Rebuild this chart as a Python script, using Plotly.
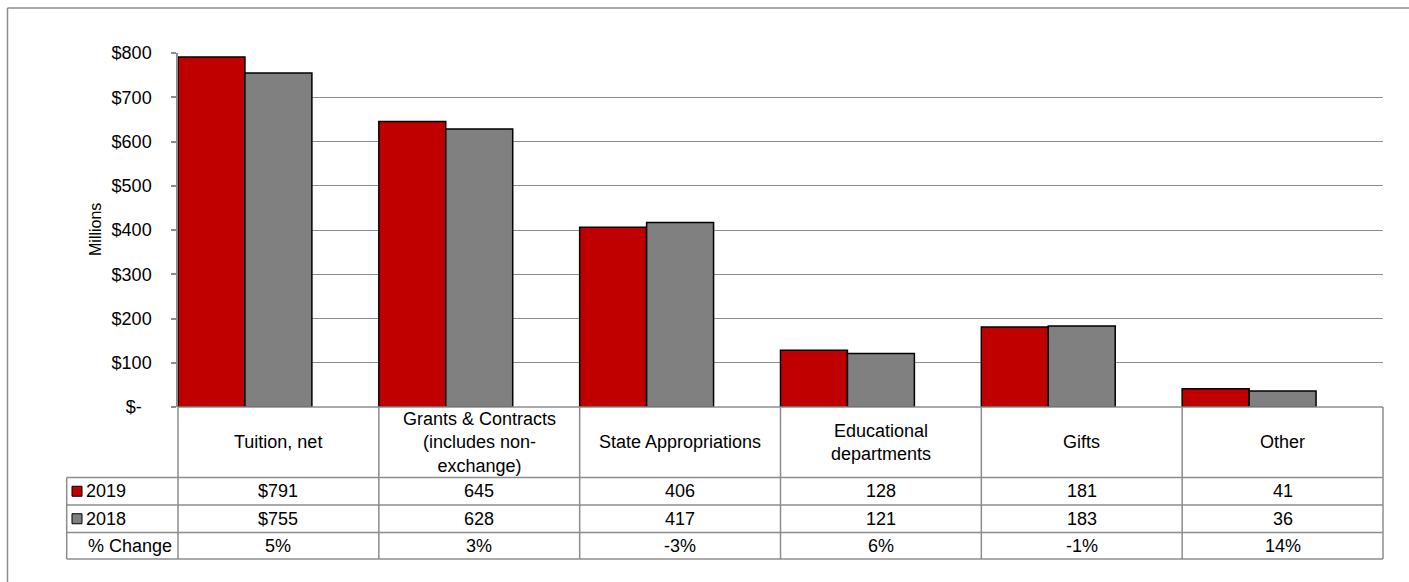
import plotly.graph_objects as go

# ---- data -------------------------------------------------------------
categories = [
    "Tuition, net",
    "Grants & Contracts<br>(includes non-<br>exchange)",
    "State Appropriations",
    "Educational<br>departments",
    "Gifts",
    "Other",
]
years = ["2019", "2018"]
values_2019 = [791, 645, 406, 128, 181, 41]
values_2018 = [755, 628, 417, 121, 183, 36]
pct_change = ["5%", "3%", "-3%", "6%", "-1%", "14%"]
y_ticks = [0, 100, 200, 300, 400, 500, 600, 700, 800]
y_tick_labels = ["$-\u00a0\u00a0", "$100", "$200", "$300", "$400", "$500", "$600", "$700", "$800"]

# ---- styling ----------------------------------------------------------
W, H = 1409, 582
PL, PR, PT, PB = 178, 1383, 53, 407          # plot area in pixels
RED, GREY = "#C00000", "#808080"
LINE = "#8C8C8C"
FONT = "Liberation Sans, Arial, sans-serif"
FS = 18

n = len(categories)
bar_w = 1.0 / 3.0


def px(x):
    return (x - PL) / (PR - PL)


def py(y):
    return (PB - y) / (PB - PT)


fig = go.Figure()
for k, (name, vals, col) in enumerate([(years[0], values_2019, RED),
                                       (years[1], values_2018, GREY)]):
    fig.add_trace(go.Bar(
        name=name,
        x=[i + k * bar_w for i in range(n)],
        y=vals,
        width=bar_w,
        offset=0,
        marker=dict(color=col, line=dict(color="#000000", width=1.5)),
        showlegend=False,
        hoverinfo="skip",
    ))

shapes = []
annotations = []

# outer chart border: only the top and left edges fall inside the page
shapes.append(dict(type="line", xref="paper", yref="paper",
                   x0=px(7.5), x1=px(W), y0=py(8), y1=py(8),
                   line=dict(color=LINE, width=1.5), layer="below"))
shapes.append(dict(type="line", xref="paper", yref="paper",
                   x0=px(7.5), x1=px(7.5), y0=py(8), y1=py(H),
                   line=dict(color=LINE, width=1.5), layer="below"))

# data table grid
row_edges = [PB, 477.5, 505, 532.5, 559]
col_edges = [PL + (PR - PL) * i / n for i in range(n + 1)]
left_edge = 66.7
shapes.append(dict(type="line", xref="paper", yref="paper",
                   x0=px(PL), x1=px(PR), y0=py(PB), y1=py(PB),
                   line=dict(color=LINE, width=1.5)))
for ry in row_edges[1:]:
    shapes.append(dict(type="line", xref="paper", yref="paper",
                       x0=px(left_edge), x1=px(PR), y0=py(ry), y1=py(ry),
                       line=dict(color=LINE, width=1.5)))
for cx in col_edges:
    shapes.append(dict(type="line", xref="paper", yref="paper",
                       x0=px(cx), x1=px(cx), y0=py(PB), y1=py(row_edges[-1]),
                       line=dict(color=LINE, width=1.5)))
shapes.append(dict(type="line", xref="paper", yref="paper",
                   x0=px(left_edge), x1=px(left_edge),
                   y0=py(row_edges[1]), y1=py(row_edges[-1]),
                   line=dict(color=LINE, width=1.5)))


def cell_text(text, col, row):
    cy = (row_edges[row] + row_edges[row + 1]) / 2
    cx = (col_edges[col] + col_edges[col + 1]) / 2
    annotations.append(dict(text=text, xref="paper", yref="paper",
                            x=px(cx), y=py(cy), xanchor="center", yanchor="middle",
                            showarrow=False, font=dict(family=FONT, size=FS, color="#000")))


# header row: category names
for i, c in enumerate(categories):
    cell_text(c, i, 0)

# value rows
row_2019 = ["$" + str(values_2019[0])] + [str(v) for v in values_2019[1:]]
row_2018 = ["$" + str(values_2018[0])] + [str(v) for v in values_2018[1:]]
for i in range(n):
    cell_text(row_2019[i], i, 1)
    cell_text(row_2018[i], i, 2)
    cell_text(pct_change[i], i, 3)

# row headers with colour keys
for r, (name, col) in enumerate([(years[0], RED), (years[1], GREY)], start=1):
    cy = (row_edges[r] + row_edges[r + 1]) / 2
    shapes.append(dict(type="rect", xref="paper", yref="paper",
                       x0=px(72), x1=px(82), y0=py(cy + 5), y1=py(cy - 5),
                       fillcolor=col, line=dict(color="#000000", width=1)))
    annotations.append(dict(text=name, xref="paper", yref="paper",
                            x=px(84), y=py(cy), xanchor="left", yanchor="middle",
                            showarrow=False, font=dict(family=FONT, size=FS, color="#000")))
cy = (row_edges[3] + row_edges[4]) / 2
annotations.append(dict(text="% Change", xref="paper", yref="paper",
                        x=px(174), y=py(cy), xanchor="right", yanchor="middle",
                        showarrow=False, font=dict(family=FONT, size=FS, color="#000")))

# y-axis title
annotations.append(dict(text="Millions", xref="paper", yref="paper",
                        x=px(95), y=0.5, textangle=-90,
                        xanchor="center", yanchor="middle", showarrow=False,
                        font=dict(family=FONT, size=16, color="#000")))

fig.update_layout(
    width=W, height=H,
    margin=dict(l=PL, r=W - PR, t=PT, b=H - PB),
    paper_bgcolor="white", plot_bgcolor="white",
    barmode="overlay",
    xaxis=dict(range=[0, n], showticklabels=False, showgrid=False,
               zeroline=False, showline=False, fixedrange=True),
    yaxis=dict(range=[0, 800], tickvals=y_ticks, ticktext=y_tick_labels,
               showgrid=True, gridcolor=LINE, gridwidth=1,
               zeroline=False, showline=True, linecolor=LINE, linewidth=1.5,
               ticks="outside", ticklen=5, tickcolor=LINE, tickwidth=1.5,
               ticklabelstandoff=16,
               tickfont=dict(family=FONT, size=18, color="#000"),
               fixedrange=True),
    shapes=shapes,
    annotations=annotations,
    font=dict(family=FONT),
)

fig.write_html("out.html")
